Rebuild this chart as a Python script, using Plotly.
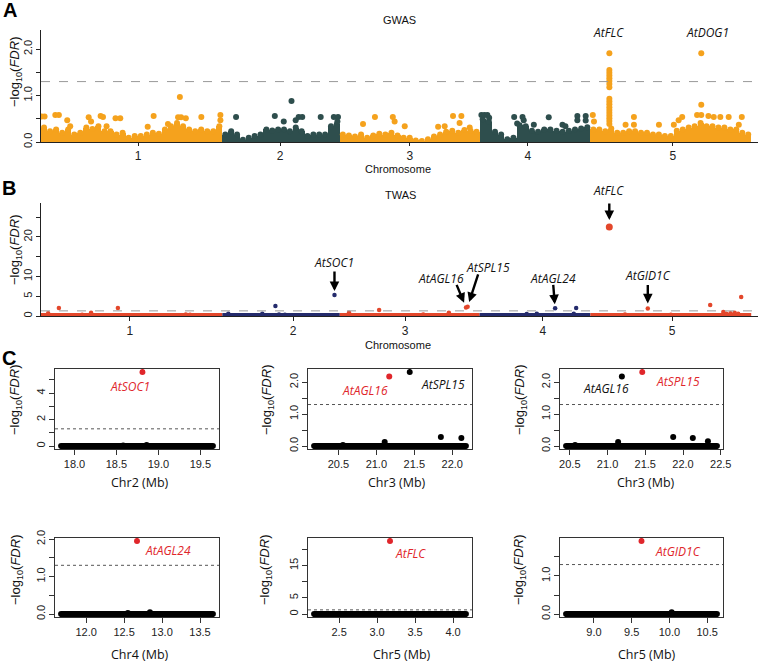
import plotly.graph_objects as go
from itertools import accumulate

W, H = 759, 663

# ---------------- data ----------------
chrom_labels = ["1", "2", "3", "4", "5"]
chrom_len_mb = [30.43, 19.70, 23.46, 18.59, 26.98]
gwas_tick_pos = [16.3, 40.1, 61.9, 81.7, 106.0]
twas_tick_pos = [14.9, 42.3, 61.1, 84.2, 105.9]
fdr_line = 1.30

gwas_colors = ["#F5A21D", "#2E4E4D"]
twas_colors = ["#E3472B", "#242B6C"]

# GWAS: top of the dense SNP cloud, one value per ~1 Mb window
gwas_band_chr1 = [0.31, 0.23, 0.27, 0.20, 0.27, 0.16, 0.20, 0.31, 0.28, 0.34, 0.23, 0.23, 0.16, 0.20, 0.09,
                  0.13, 0.13, 0.16, 0.20, 0.18, 0.27, 0.34, 0.41, 0.34, 0.27, 0.23, 0.27, 0.23, 0.23, 0.34]
gwas_band_chr2 = [0.16, 0.23, 0.16, 0.05, 0.09, 0.13, 0.16, 0.27, 0.25, 0.27, 0.27, 0.23, 0.31, 0.23, 0.13,
                  0.16, 0.16, 0.16, 0.34, 0.38]
gwas_band_chr3 = [0.16, 0.14, 0.12, 0.16, 0.09, 0.14, 0.18, 0.16, 0.20, 0.14, 0.09, 0.09, 0.03, 0.02, 0.06,
                  0.12, 0.16, 0.22, 0.24, 0.20, 0.26, 0.24, 0.22]
gwas_band_chr4 = [0.49, 0.44, 0.22, 0.16, 0.06, 0.09, 0.36, 0.34, 0.24, 0.22, 0.27, 0.27, 0.24, 0.22, 0.24,
                  0.27, 0.29, 0.32]
gwas_band_chr5 = [0.27, 0.27, 0.23, 0.29, 0.20, 0.20, 0.23, 0.23, 0.20, 0.20, 0.16, 0.16, 0.13, 0.13, 0.24,
                  0.27, 0.31, 0.34, 0.41, 0.34, 0.34, 0.31, 0.31, 0.27, 0.27, 0.20, 0.16]

# GWAS: SNPs standing above the cloud (position Mb, -log10 FDR)
gwas_top_chr1 = [(0.1, 0.55), (0.6, 0.55), (2.4, 0.58), (3.0, 0.58), (4.4, 0.47), (4.9, 0.34), (8.0, 0.53),
                 (8.4, 0.44), (10.0, 0.56), (10.4, 0.54), (11.0, 0.34), (12.5, 0.51), (13.3, 0.51),
                 (17.9, 0.33), (18.9, 0.56), (21.3, 0.39), (23.0, 0.53), (23.3, 0.97), (23.5, 0.53),
                 (24.3, 0.51), (26.9, 0.54), (30.1, 0.58), (30.1, 0.47)]
gwas_top_chr2 = [(2.3, 0.54), (8.8, 0.56), (10.3, 0.44), (11.6, 0.88), (12.3, 0.47), (12.8, 0.54),
                 (13.4, 0.54), (16.5, 0.54), (18.7, 0.54), (19.4, 0.54), (19.3, 0.44)]
gwas_top_chr3 = [(3.9, 0.39), (5.9, 0.54), (8.9, 0.54), (9.2, 0.44), (10.9, 0.34), (16.5, 0.33),
                 (17.6, 0.34), (19.0, 0.56), (20.4, 0.56), (20.1, 0.41), (21.8, 0.31)]
gwas_top_chr4 = [(0.3, 0.58), (0.8, 0.58), (1.3, 0.58), (1.6, 0.52), (5.8, 0.54), (6.3, 0.40), (7.2, 0.54),
                 (7.4, 0.47), (9.1, 0.37), (11.6, 0.53), (13.9, 0.37), (14.4, 0.34), (16.4, 0.56),
                 (16.4, 0.47), (17.8, 0.56), (17.8, 0.46)]
gwas_top_chr5 = [(0.4, 0.58), (0.6, 0.44), (3.18, 1.91), (3.18, 1.55), (3.18, 1.49), (3.18, 1.43),
                 (3.18, 1.37), (3.18, 1.31), (3.18, 1.25), (3.18, 1.18), (3.18, 0.93), (3.18, 0.87),
                 (3.18, 0.81), (3.18, 0.75), (3.18, 0.69), (3.18, 0.63), (3.18, 0.57), (3.18, 0.51),
                 (3.18, 0.45), (3.18, 0.39), (5.9, 0.37), (7.3, 0.54), (7.3, 0.37), (11.5, 0.37),
                 (14.0, 0.37), (14.8, 0.47), (15.4, 0.54), (17.9, 0.58), (18.6, 0.58), (18.6, 0.80),
                 (18.6, 1.91), (19.8, 0.56), (20.7, 0.54), (21.8, 0.54), (23.2, 0.54), (24.9, 0.37),
                 (25.4, 0.54)]

# TWAS: genes above the baseline (position Mb, -log10 FDR)
twas_chr1 = [(1.2, 0.7), (3.0, 2.0), (6.9, 0.3), (8.4, 0.8), (12.9, 2.0), (24.3, 0.4), (25.0, 0.3)]
twas_chr2 = [(1.0, 0.6), (6.7, 0.6), (8.9, 2.5), (9.5, 0.4), (10.5, 0.3), (18.81, 5.3)]
twas_chr3 = [(1.55, 0.8), (6.6, 1.5), (14.0, 0.4), (18.3, 0.8), (21.18, 2.18), (21.45, 2.32)]
twas_chr4 = [(7.9, 0.5), (9.6, 0.6), (12.67, 1.95), (15.8, 0.6), (16.2, 2.0)]
twas_chr5 = [(3.17, 22.5), (5.8, 0.4), (9.63, 1.92), (13.5, 0.3), (20.1, 2.8), (22.3, 1.0), (22.8, 0.6),
             (23.5, 0.7), (24.2, 0.8), (24.8, 0.6), (25.3, 4.8)]

# TWAS gene labels: (label, chromosome index, Mb, value)
twas_genes = [("AtSOC1", 1, 18.81, 5.3), ("AtFLC", 4, 3.17, 22.5), ("AtAGL16", 2, 21.18, 2.18),
              ("AtSPL15", 2, 21.45, 2.32), ("AtAGL24", 3, 12.67, 1.95), ("AtGID1C", 4, 9.63, 1.92)]

# Panel C: regional plots (band start/end in Mb, other genes, highlighted gene)
c1_span = [17.84, 19.65]; c1_black_mb = [18.58, 18.86]; c1_black_val = [0.05, 0.07]
c1_red_mb = [18.81]; c1_red_val = [5.6]
c2_span = [20.18, 22.18]; c2_black_mb = [20.56, 21.11, 21.44, 21.85, 22.12]
c2_black_val = [0.03, 0.13, 2.32, 0.28, 0.25]; c2_red_mb = [21.17]; c2_red_val = [2.18]
c3_span = [20.45, 22.45]; c3_black_mb = [20.57, 21.14, 21.19, 21.87, 22.13, 22.33]
c3_black_val = [0.03, 0.13, 2.18, 0.28, 0.25, 0.15]; c3_red_mb = [21.46]; c3_red_val = [2.32]
c4_span = [11.67, 13.67]; c4_black_mb = [12.55, 12.84]; c4_black_val = [0.03, 0.05]
c4_red_mb = [12.67]; c4_red_val = [1.95]
c5_span = [2.17, 4.17]; c5_black_mb = []; c5_black_val = []
c5_red_mb = [3.17]; c5_red_val = [22.6]
c6_span = [8.63, 10.63]; c6_black_mb = [10.03]; c6_black_val = [0.05]
c6_red_mb = [9.63]; c6_red_val = [1.92]

c_xticks = [[18.0, 18.5, 19.0, 19.5], [20.5, 21.0, 21.5, 22.0], [20.5, 21.0, 21.5, 22.0, 22.5],
            [12.0, 12.5, 13.0, 13.5], [2.5, 3.0, 3.5, 4.0], [9.0, 9.5, 10.0, 10.5]]
c_yticks = [[0, 1, 2, 3, 4, 5], [0, 0.5, 1, 1.5, 2], [0, 0.5, 1, 1.5, 2], [0, 0.5, 1, 1.5, 2],
            [0, 5, 10, 15, 20], [0, 0.5, 1, 1.5]]
c_ylabels = [["0", "", "2", "", "4", ""], ["0.0", "", "1.0", "", "2.0"], ["0.0", "", "1.0", "", "2.0"],
             ["0.0", "", "1.0", "", "2.0"], ["0", "5", "", "15", ""], ["0.0", "", "1.0", ""]]
c_xtitles = ["Chr2 (Mb)", "Chr3 (Mb)", "Chr3 (Mb)", "Chr4 (Mb)", "Chr5 (Mb)", "Chr5 (Mb)"]

# ---------------- helpers ----------------
SANS = "Liberation Sans, Arial, sans-serif"
CAL = "Open Sans, Noto Sans, sans-serif"
RED = "#E0262B"


def xp(px):
    return px / W


def yp(py):
    return 1 - py / H


def mk(color, size):
    return dict(color=color, size=size, opacity=1, line=dict(width=0))


chrom_start = [0] + list(accumulate(chrom_len_mb))[:-1]
fig = go.Figure()

# ---------------- Panel A: GWAS ----------------
bands = [gwas_band_chr1, gwas_band_chr2, gwas_band_chr3, gwas_band_chr4, gwas_band_chr5]
tops = [gwas_top_chr1, gwas_top_chr2, gwas_top_chr3, gwas_top_chr4, gwas_top_chr5]
for ci, (band, top) in enumerate(zip(bands, tops)):
    col = gwas_colors[ci % 2]
    L = chrom_len_mb[ci]
    n = len(band)
    step = L / n
    bx = [chrom_start[ci] + (i + 0.5) * step for i in range(n)]
    fig.add_trace(go.Bar(x=bx, y=band, width=step, marker=dict(color=col, line=dict(width=0)),
                         xaxis="x", yaxis="y", hoverinfo="skip"))
    fig.add_trace(go.Scatter(x=bx, y=band, mode="markers", marker=mk(col, 6),
                             xaxis="x", yaxis="y", hoverinfo="skip"))
    fig.add_trace(go.Scatter(x=[chrom_start[ci] + p for p, v in top], y=[v for p, v in top],
                             mode="markers", marker=mk(col, 6), xaxis="x", yaxis="y"))

# ---------------- Panel B: TWAS ----------------
twas_all = [twas_chr1, twas_chr2, twas_chr3, twas_chr4, twas_chr5]
for ci, pts in enumerate(twas_all):
    col = twas_colors[ci % 2]
    fig.add_trace(go.Scatter(x=[chrom_start[ci], chrom_start[ci] + chrom_len_mb[ci]], y=[0, 0],
                             mode="lines", line=dict(color=col, width=6), xaxis="x2", yaxis="y2"))
    fig.add_trace(go.Scatter(x=[chrom_start[ci] + p for p, v in pts], y=[v for p, v in pts],
                             mode="markers", marker=mk(col, [7 if v > 20 else 4.5 for p, v in pts]),
                             xaxis="x2", yaxis="y2"))

# ---------------- Panel C ----------------
c_data = [(c1_span, c1_black_mb, c1_black_val, c1_red_mb, c1_red_val),
          (c2_span, c2_black_mb, c2_black_val, c2_red_mb, c2_red_val),
          (c3_span, c3_black_mb, c3_black_val, c3_red_mb, c3_red_val),
          (c4_span, c4_black_mb, c4_black_val, c4_red_mb, c4_red_val),
          (c5_span, c5_black_mb, c5_black_val, c5_red_mb, c5_red_val),
          (c6_span, c6_black_mb, c6_black_val, c6_red_mb, c6_red_val)]
c_cols = [(55, 219), (308, 472), (560, 723)]
c_rows = [(369, 449), (538, 617)]

layout_axes = {}
for k, (span, bmb, bval, rmb, rval) in enumerate(c_data):
    ax_i = k + 3
    xa, ya = f"x{ax_i}", f"y{ax_i}"
    fig.add_trace(go.Scatter(x=span, y=[0, 0], mode="lines+markers", line=dict(color="black", width=6),
                             marker=mk("black", 6), xaxis=xa, yaxis=ya))
    fig.add_trace(go.Scatter(x=bmb, y=bval, mode="markers", marker=mk("black", 6),
                             xaxis=xa, yaxis=ya))
    fig.add_trace(go.Scatter(x=rmb, y=rval, mode="markers", marker=mk(RED, 6),
                             xaxis=xa, yaxis=ya))
    ymax = max(bval + rval)
    xr = [span[0] - 0.04 * (span[1] - span[0]), span[1] + 0.04 * (span[1] - span[0])]
    yr = [-0.04 * ymax, ymax * 1.04]
    cx = c_cols[k % 3]
    cy = c_rows[k // 3]
    layout_axes[f"xaxis{ax_i}"] = dict(
        domain=[xp(cx[0]), xp(cx[1])], range=xr, anchor=ya, showline=True, mirror=True,
        linecolor="#333", linewidth=1, ticks="outside", ticklen=5, tickcolor="#333",
        tickvals=c_xticks[k], ticktext=[f"{v:.1f}" for v in c_xticks[k]], showgrid=False,
        zeroline=False, tickfont=dict(size=11, family=SANS, color="#222"), automargin=False)
    layout_axes[f"yaxis{ax_i}"] = dict(
        domain=[yp(cy[1]), yp(cy[0])], range=yr, anchor=xa, showline=True, mirror=True,
        linecolor="#333", linewidth=1, ticks="outside", ticklen=5, tickcolor="#333",
        tickvals=c_yticks[k], ticktext=c_ylabels[k], tickangle=-90, showgrid=False,
        zeroline=False, tickfont=dict(size=11, family=SANS, color="#222"), automargin=False)

# ---------------- layout ----------------
xr_main = [0, 120.3]
base_x = dict(range=xr_main, showline=True, linecolor="#222", linewidth=1, ticks="outside",
              ticklen=3, tickcolor="#222", showgrid=False, zeroline=False, automargin=False,
              tickfont=dict(size=12, family=SANS, color="#222"))
fig.update_layout(
    width=W, height=H, margin=dict(l=0, r=0, t=0, b=0), paper_bgcolor="white",
    plot_bgcolor="white", showlegend=False, bargap=0,
    xaxis=dict(base_x, domain=[xp(41), xp(758)], anchor="y", tickvals=gwas_tick_pos,
               ticktext=chrom_labels),
    yaxis=dict(domain=[yp(142), yp(30)], range=[0, 2.41], anchor="x", showline=True,
               linecolor="#222", linewidth=1, ticks="outside", ticklen=4, tickcolor="#222",
               tickvals=[0, 0.5, 1, 1.5, 2], ticktext=["0.0", "", "1.0", "", "2.0"], tickangle=-90,
               showgrid=False, zeroline=False, automargin=False,
               tickfont=dict(size=11, family=SANS, color="#222")),
    xaxis2=dict(base_x, domain=[xp(41), xp(758)], anchor="y2", tickvals=twas_tick_pos,
                ticktext=chrom_labels, ticklen=4),
    yaxis2=dict(domain=[yp(316), yp(203)], range=[0, 28.6], anchor="x2", showline=True,
                linecolor="#222", linewidth=1, ticks="outside", ticklen=4, tickcolor="#222",
                tickvals=[0, 5, 10, 15, 20, 25], ticktext=["0", "5", "10", "", "20", ""],
                tickangle=-90, showgrid=False, zeroline=False, automargin=False,
                tickfont=dict(size=11, family=SANS, color="#222")),
    **layout_axes,
)

# threshold lines
shapes = [dict(type="line", xref="x domain", yref="y", x0=0, x1=1, y0=fdr_line, y1=fdr_line,
               line=dict(color="#9a9a9a", width=1, dash="dash")),
          dict(type="line", xref="x2 domain", yref="y2", x0=0, x1=1, y0=fdr_line, y1=fdr_line,
               line=dict(color="#9a9a9a", width=1, dash="dash"))]
for k in range(6):
    ax_i = k + 3
    shapes.append(dict(type="line", xref=f"x{ax_i} domain", yref=f"y{ax_i}", x0=0, x1=1,
                       y0=fdr_line, y1=fdr_line, line=dict(color="#555", width=1, dash="dot")))
fig.update_layout(shapes=shapes)

ann = []


def txt(px, py, text, size=12, color="#111", family=SANS, angle=0):
    ann.append(dict(x=xp(px), y=yp(py), xref="paper", yref="paper", text=text, showarrow=False,
                    font=dict(size=size, color=color, family=family), xanchor="center",
                    yanchor="middle", textangle=angle))


ylab = "\u2212log<sub>10</sub>(<i>FDR</i>)"
# panel letters
txt(10, 10, "<b>A</b>", size=20, color="black")
txt(9, 188, "<b>B</b>", size=20, color="black")
txt(9, 358, "<b>C</b>", size=20, color="black")
# titles
txt(399, 20, "GWAS", size=11)
txt(400, 195, "TWAS", size=11)
txt(398, 169, "Chromosome", size=11)
txt(398, 345, "Chromosome", size=11)
txt(15, 72, ylab, size=13, angle=-90)
txt(15, 250, ylab, size=13, angle=-90)
# GWAS gene labels
txt(608, 32, "<i>AtFLC</i>", size=12, family=CAL)
txt(707, 32, "<i>AtDOG1</i>", size=12, family=CAL)
# TWAS gene labels
twas_label_px = {"AtSOC1": (334, 263), "AtFLC": (608, 191), "AtAGL16": (441, 278),
                 "AtSPL15": (488, 267), "AtAGL24": (553, 278), "AtGID1C": (648, 275)}
twas_arrow = {"AtSOC1": (0, -25, 4), "AtFLC": (0, -25, 7), "AtAGL16": (-10, -24, 5),
              "AtSPL15": (11, -34, 5), "AtAGL24": (-2, -25, 4), "AtGID1C": (0, -25, 5)}
for name, ci, mb, val in twas_genes:
    px, py = twas_label_px[name]
    txt(px, py, f"<i>{name}</i>", size=12, family=CAL)
    axo, ayo, so = twas_arrow[name]
    ann.append(dict(x=chrom_start[ci] + mb, y=val, xref="x2", yref="y2", ax=axo, ay=ayo, text="",
                    showarrow=True, arrowhead=2, arrowsize=0.8, arrowwidth=2.4, arrowcolor="black",
                    standoff=so))
# panel C labels
txt(130, 386, "<i>AtSOC1</i>", size=12, color=RED, family=CAL)
txt(365, 390, "<i>AtAGL16</i>", size=12, color=RED, family=CAL)
txt(443, 384, "<i>AtSPL15</i>", size=12, color="#111", family=CAL)
txt(606, 388, "<i>AtAGL16</i>", size=12, color="#111", family=CAL)
txt(678, 382, "<i>AtSPL15</i>", size=12, color=RED, family=CAL)
txt(168, 550, "<i>AtAGL24</i>", size=12, color=RED, family=CAL)
txt(410, 553, "<i>AtFLC</i>", size=12, color=RED, family=CAL)
txt(678, 551, "<i>AtGID1C</i>", size=12, color=RED, family=CAL)
# panel C axis titles
c_xt_px = [(140, 482), (397, 482), (646, 482), (140, 654), (402, 654), (647, 654)]
c_yt_px = [(15, 400), (267, 400), (520, 400), (16, 570), (265, 570), (519, 570)]
for k in range(6):
    txt(*c_xt_px[k], c_xtitles[k], size=12.5, color="#111", family=CAL)
    txt(*c_yt_px[k], ylab, size=13, angle=-90)

fig.update_layout(annotations=ann)
fig.write_html("out.html", config={"displayModeBar": False},
               post_script="document.body.style.margin='0';document.body.style.padding='0';"
                           "document.body.style.overflow='hidden';")
